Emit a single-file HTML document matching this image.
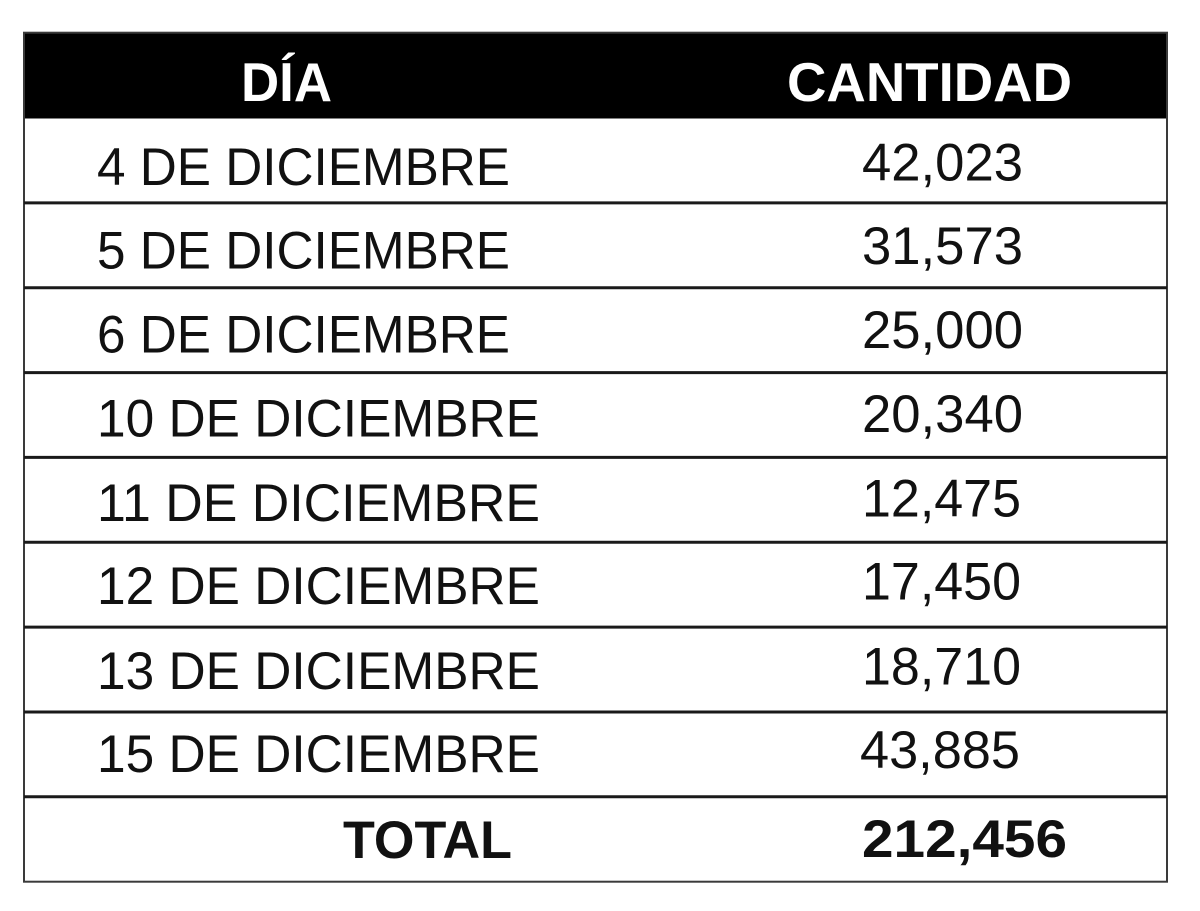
<!DOCTYPE html>
<html>
<head>
<meta charset="utf-8">
<style>
  html,body{margin:0;padding:0;background:#fff;}
  body{width:1200px;height:911px;overflow:hidden;}
  svg{display:block;}
  .l{font-family:"Liberation Sans",Arial,sans-serif;font-size:53px;fill:#111;}
  .b{font-family:"Liberation Sans",Arial,sans-serif;font-size:53px;font-weight:bold;fill:#111;}
  .h{font-family:"Liberation Sans",Arial,sans-serif;font-size:54.5px;font-weight:bold;fill:#fff;}
</style>
</head>
<body>
<svg width="1200" height="911" viewBox="0 0 1200 911" xmlns="http://www.w3.org/2000/svg">
  <rect x="0" y="0" width="1200" height="911" fill="#fff"/>
  <!-- header -->
  <rect x="23" y="32" width="1145" height="86.5" fill="#000"/>
  <!-- outer border -->
  <rect x="24" y="32.7" width="1143" height="849" fill="none" stroke="#3a3a3a" stroke-width="2"/>
  <!-- row separators -->
  <g stroke="#1a1a1a" stroke-width="3">
    <line x1="24" y1="202.9" x2="1167" y2="202.9"/>
    <line x1="24" y1="287.7" x2="1167" y2="287.7"/>
    <line x1="24" y1="372.6" x2="1167" y2="372.6"/>
    <line x1="24" y1="457.4" x2="1167" y2="457.4"/>
    <line x1="24" y1="542.3" x2="1167" y2="542.3"/>
    <line x1="24" y1="627.1" x2="1167" y2="627.1"/>
    <line x1="24" y1="712" x2="1167" y2="712"/>
    <line x1="24" y1="796.8" x2="1167" y2="796.8"/>
  </g>
  <!-- header text -->
  <text class="h" x="241" y="101" textLength="91" lengthAdjust="spacingAndGlyphs">DÍA</text>
  <text class="h" x="787" y="101" textLength="285" lengthAdjust="spacingAndGlyphs">CANTIDAD</text>

  <!-- left column -->
  <text class="l" x="97" y="185" textLength="413" lengthAdjust="spacingAndGlyphs">4 DE DICIEMBRE</text>
  <text class="l" x="97" y="268.5" textLength="413" lengthAdjust="spacingAndGlyphs">5 DE DICIEMBRE</text>
  <text class="l" x="97" y="352.7" textLength="413" lengthAdjust="spacingAndGlyphs">6 DE DICIEMBRE</text>
  <text class="l" x="97" y="436.6" textLength="443" lengthAdjust="spacingAndGlyphs">10 DE DICIEMBRE</text>
  <text class="l" x="97" y="521" textLength="443" lengthAdjust="spacingAndGlyphs">11 DE DICIEMBRE</text>
  <text class="l" x="97" y="604" textLength="443" lengthAdjust="spacingAndGlyphs">12 DE DICIEMBRE</text>
  <text class="l" x="97" y="689" textLength="443" lengthAdjust="spacingAndGlyphs">13 DE DICIEMBRE</text>
  <text class="l" x="97" y="772" textLength="443" lengthAdjust="spacingAndGlyphs">15 DE DICIEMBRE</text>

  <!-- right column -->
  <text class="l" x="862" y="180.5" textLength="161" lengthAdjust="spacingAndGlyphs">42,023</text>
  <text class="l" x="862" y="264" textLength="161" lengthAdjust="spacingAndGlyphs">31,573</text>
  <text class="l" x="862" y="348.2" textLength="161" lengthAdjust="spacingAndGlyphs">25,000</text>
  <text class="l" x="862" y="432.1" textLength="161" lengthAdjust="spacingAndGlyphs">20,340</text>
  <text class="l" x="862" y="516.5" textLength="159" lengthAdjust="spacingAndGlyphs">12,475</text>
  <text class="l" x="862" y="599.5" textLength="159" lengthAdjust="spacingAndGlyphs">17,450</text>
  <text class="l" x="862" y="684.5" textLength="159" lengthAdjust="spacingAndGlyphs">18,710</text>
  <text class="l" x="860" y="768" textLength="160" lengthAdjust="spacingAndGlyphs">43,885</text>

  <!-- total row -->
  <text class="b" x="343" y="858" textLength="169" lengthAdjust="spacingAndGlyphs">TOTAL</text>
  <text class="b" x="862" y="857" textLength="205" lengthAdjust="spacingAndGlyphs">212,456</text>
</svg>
</body>
</html>
